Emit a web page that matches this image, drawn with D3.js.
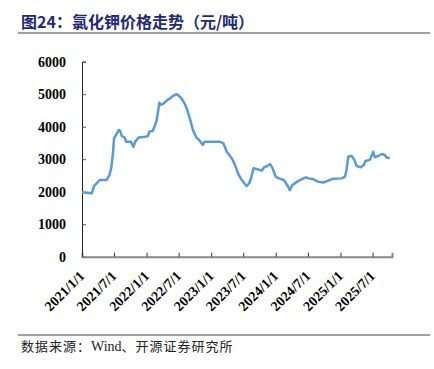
<!DOCTYPE html>
<html>
<head>
<meta charset="utf-8">
<script src="https://cdn.jsdelivr.net/npm/d3@7"></script>
<style>
  body { margin: 0; background: #fff; }
  svg { display: block; }
</style>
</head>
<body>
<script>
// KCl price series (yuan/ton)
var dates = [
  "2021-01-01","2021-02-25","2021-03-10","2021-03-25","2021-04-12","2021-05-20","2021-06-05","2021-06-15",
  "2021-06-25","2021-07-01","2021-07-18","2021-07-28","2021-08-04","2021-08-14","2021-08-29","2021-09-08",
  "2021-10-04","2021-10-19","2021-10-29","2021-11-17","2021-12-24","2022-01-08","2022-01-17","2022-02-05",
  "2022-02-18","2022-02-27","2022-03-08","2022-03-14","2022-03-22","2022-04-05","2022-04-24","2022-05-12",
  "2022-05-31","2022-06-19","2022-06-28","2022-07-17","2022-08-05","2022-08-18","2022-09-02","2022-09-20",
  "2022-10-09","2022-10-28","2022-11-15","2022-11-25","2023-02-18","2023-03-11","2023-03-30","2023-04-27",
  "2023-05-16","2023-06-01","2023-06-20","2023-07-07","2023-07-20","2023-08-04","2023-08-17","2023-08-28",
  "2023-09-20","2023-10-14","2023-10-27","2023-11-14","2023-11-30","2023-12-12","2024-01-01","2024-01-19",
  "2024-02-16","2024-03-06","2024-03-21","2024-04-03","2024-05-01","2024-05-29","2024-06-20","2024-07-05",
  "2024-08-02","2024-08-26","2024-09-26","2024-10-24","2024-11-21","2025-01-07","2025-01-26","2025-02-04",
  "2025-02-14","2025-03-05","2025-03-20","2025-04-02","2025-04-26","2025-05-13","2025-05-22","2025-06-16",
  "2025-06-25","2025-07-05","2025-07-14","2025-08-02","2025-08-24","2025-09-08","2025-09-17","2025-10-06"
];
var prices = [
  1980,1950,2175,2260,2360,2360,2510,2720,
  3180,3640,3800,3900,3880,3710,3670,3540,
  3540,3380,3540,3670,3690,3710,3850,3870,
  4050,4200,4510,4740,4670,4700,4800,4870,
  4950,5000,4975,4870,4700,4535,4260,3900,
  3670,3570,3440,3540,3540,3490,3230,3030,
  2820,2570,2380,2260,2175,2260,2460,2720,
  2690,2650,2750,2790,2850,2750,2460,2410,
  2360,2200,2050,2200,2310,2390,2440,2410,
  2380,2310,2280,2340,2400,2410,2460,2670,
  3080,3100,2980,2790,2750,2820,2945,2980,
  3100,3230,3060,3100,3160,3130,3060,3030
];
var yTicks = [0, 1000, 2000, 3000, 4000, 5000, 6000];
var xTicks = ["2021-01-01","2021-07-01","2022-01-01","2022-07-01","2023-01-01",
              "2023-07-01","2024-01-01","2024-07-01","2025-01-01","2025-07-01"];
var titleText = "图24：氯化钾价格走势（元/吨）";
var sourceParts = ["数据来源：", "Wind", "、开源证券研究所"];

var W = 434, H = 369;
var parse = d3.timeParse("%Y-%m-%d");
var fmt = d3.timeFormat("%Y/%-m/%-d");

var data = dates.map(function (d, i) { return { date: parse(d), value: prices[i] }; });

var svg = d3.select("body").append("svg")
  .attr("width", W)
  .attr("height", H);

// title + rules
svg.append("text")
  .attr("x", 21).attr("y", 28)
  .attr("font-family", "'Noto Sans CJK SC', sans-serif")
  .attr("font-weight", "bold")
  .attr("font-size", 16)
  .attr("fill", "#1f2a75")
  .text(titleText);

svg.append("line")
  .attr("x1", 18).attr("x2", 430).attr("y1", 33).attr("y2", 33)
  .attr("stroke", "#808080").attr("stroke-width", 1.5);

svg.append("line")
  .attr("x1", 18).attr("x2", 430).attr("y1", 335).attr("y2", 335)
  .attr("stroke", "#808080").attr("stroke-width", 1.5);

var src = svg.append("text")
  .attr("x", 21).attr("y", 351)
  .attr("font-family", "'Noto Sans CJK SC', serif")
  .attr("font-size", 13)
  .attr("letter-spacing", 1)
  .attr("fill", "#222");
src.selectAll("tspan")
  .data(sourceParts)
  .enter().append("tspan")
  .attr("font-family", function (d, i) { return i === 1 ? "'Liberation Serif', serif" : null; })
  .attr("letter-spacing", function (d, i) { return i === 1 ? 0 : null; })
  .attr("font-size", function (d, i) { return i === 1 ? 14 : null; })
  .text(function (d) { return d; });

// scales
var x = d3.scaleTime()
  .domain([parse("2021-01-01"), parse("2025-10-19")])
  .range([82, 392]);

var y = d3.scaleLinear()
  .domain([0, 6000])
  .range([256.7, 61.7]);

// y axis
var yAxis = svg.append("g")
  .attr("transform", "translate(82,0)")
  .call(d3.axisLeft(y).tickValues(yTicks).tickSize(-4).tickPadding(16).tickFormat(d3.format("d")));
yAxis.select(".domain").attr("stroke", "#222");
yAxis.selectAll(".tick line").attr("stroke", "#555");
yAxis.selectAll("text")
  .attr("font-family", "'Liberation Serif', serif")
  .attr("font-weight", "bold")
  .attr("font-size", 14)
  .attr("fill", "#000");

// x axis
var xAxis = svg.append("g")
  .attr("transform", "translate(0,256.7)")
  .call(d3.axisBottom(x).tickValues(xTicks.map(parse)).tickSize(-4).tickFormat(fmt));
xAxis.select(".domain").attr("stroke", "#888").attr("stroke-width", 2);
xAxis.selectAll(".tick line").attr("stroke", "#333");
xAxis.selectAll("text")
  .attr("font-family", "'Liberation Serif', serif")
  .attr("font-weight", "bold")
  .attr("font-size", 14)
  .attr("fill", "#000")
  .attr("text-anchor", "end")
  .attr("y", 0)
  .attr("dy", 0)
  .attr("transform", "translate(3,20) rotate(-45)");

// price line
var line = d3.line()
  .x(function (d) { return x(d.date); })
  .y(function (d) { return y(d.value); });

svg.append("path")
  .datum(data)
  .attr("fill", "none")
  .attr("stroke", "#5b9bd5")
  .attr("stroke-width", 2.5)
  .attr("stroke-linejoin", "round")
  .attr("d", line);
</script>
</body>
</html>
